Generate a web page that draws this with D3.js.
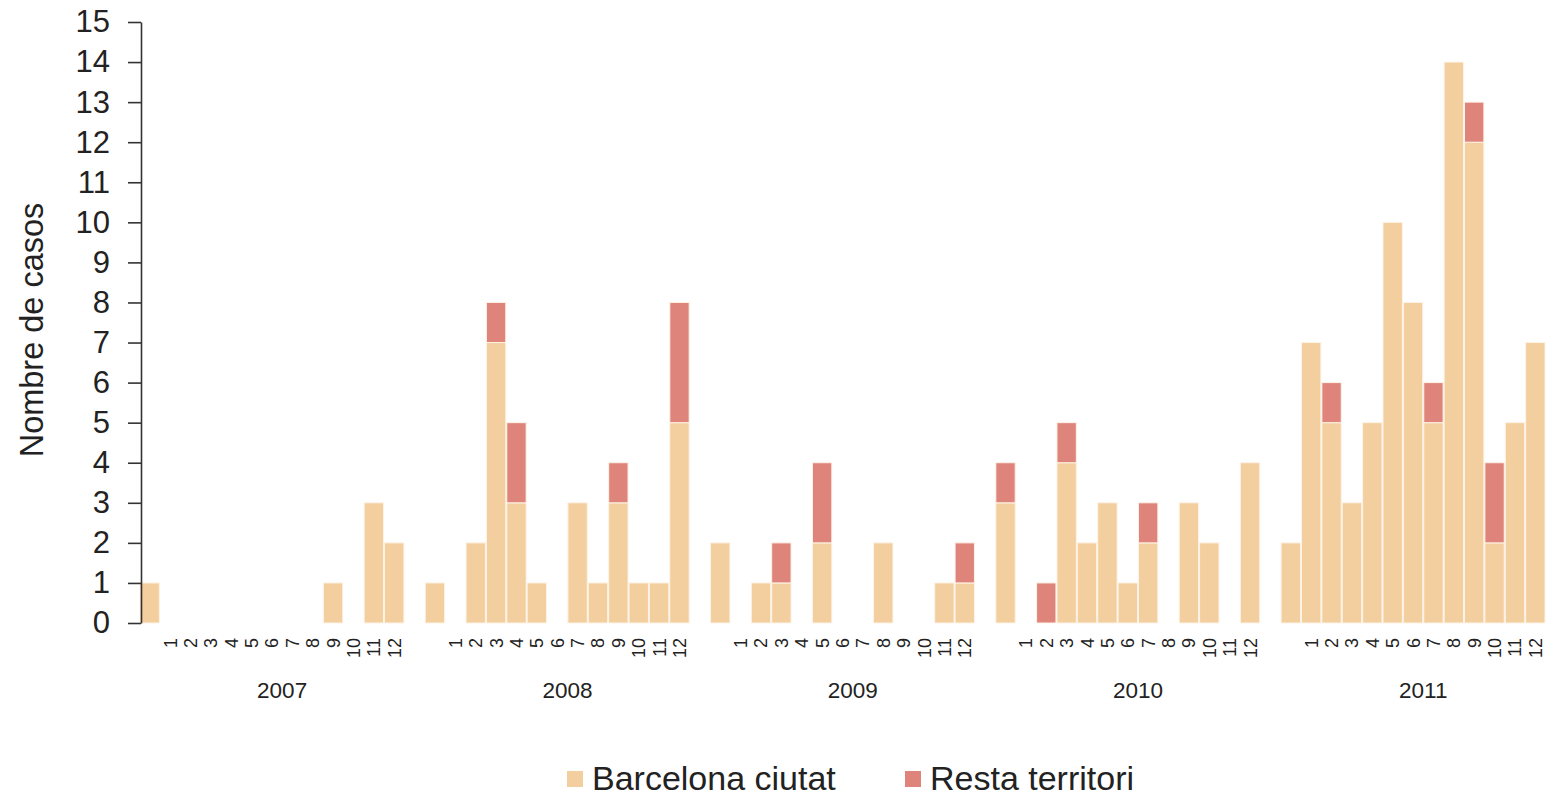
<!DOCTYPE html>
<meta charset="utf-8">
<head>
  <title>Nombre de casos</title>
  <script src="https://d3js.org/d3.v7.min.js"></script>
</head>
<style>
body { margin: 0; background: #fff; }
svg text { font-family: "Liberation Sans", Arial, sans-serif; fill: #222; }
.axis path, .axis line { stroke: #333; stroke-width: 1.6px; }
</style>
<body>
<script>

// data: one row per year, 13 slots per year (first slot unlabelled, then months 1..12)
var years = ["2007", "2008", "2009", "2010", "2011"];
var monthLabels = ["", "1", "2", "3", "4", "5", "6", "7", "8", "9", "10", "11", "12"];

var barcelona = [
  [1, 0, 0, 0, 0, 0, 0, 0, 0, 1, 0, 3, 2],
  [1, 0, 2, 7, 3, 1, 0, 3, 1, 3, 1, 1, 5],
  [2, 0, 1, 1, 0, 2, 0, 0, 2, 0, 0, 1, 1],
  [3, 0, 0, 4, 2, 3, 1, 2, 0, 3, 2, 0, 4],
  [2, 7, 5, 3, 5, 10, 8, 5, 14, 12, 2, 5, 7]
];
var resta = [
  [0, 0, 0, 0, 0, 0, 0, 0, 0, 0, 0, 0, 0],
  [0, 0, 0, 1, 2, 0, 0, 0, 0, 1, 0, 0, 3],
  [0, 0, 0, 1, 0, 2, 0, 0, 0, 0, 0, 0, 1],
  [1, 0, 1, 1, 0, 0, 0, 1, 0, 0, 0, 0, 0],
  [0, 0, 1, 0, 0, 0, 0, 1, 0, 1, 2, 0, 0]
];
var seriesNames = ["Barcelona ciutat", "Resta territori"];
var colors = ["#f3ce9e", "#de847b"];
var yTicks = d3.range(0, 16);

var width = 1553,
    height = 796;

var svg = d3.select("body").append("svg")
    .attr("width", width)
    .attr("height", height);

// flat rows + empty gap slot between years
var rows = [], domain = [];
years.forEach(function(yr, i) {
  monthLabels.forEach(function(m, j) {
    var key = yr + "-" + j;
    domain.push(key);
    rows.push({key: key, year: yr, label: m, barcelona: barcelona[i][j], resta: resta[i][j]});
  });
  if (i < years.length - 1) domain.push(yr + "-gap");
});

var x = d3.scaleBand()
    .domain(domain)
    .range([140, 1545])
    .paddingInner(0.05)
    .paddingOuter(0);

var y = d3.scaleLinear()
    .domain([0, 15])
    .range([623, 22]);

var stack = d3.stack().keys(["barcelona", "resta"]);
var layers = stack(rows);

svg.append("g")
  .selectAll("g")
  .data(layers)
  .enter().append("g")
    .attr("fill", function(d, i) { return colors[i]; })
  .selectAll("rect")
  .data(function(d) { return d; })
  .enter().filter(function(d) { return d[1] > d[0]; }).append("rect")
    .attr("x", function(d) { return x(d.data.key); })
    .attr("y", function(d) { return y(d[1]); })
    .attr("width", x.bandwidth())
    .attr("height", function(d) { return y(d[0]) - y(d[1]); })
    .attr("stroke", "#fdf3e6")
    .attr("stroke-width", 1);

// y axis
var yAxis = svg.append("g")
    .attr("class", "axis")
    .attr("transform", "translate(141,0)")
    .call(d3.axisLeft(y).tickValues(yTicks).tickSize(13).tickSizeOuter(0).tickPadding(18));
yAxis.selectAll("text")
    .style("font-size", "31px");

svg.append("text")
    .attr("transform", "translate(43,330) rotate(-90)")
    .attr("text-anchor", "middle")
    .style("font-size", "32.5px")
    .text("Nombre de casos");

// month labels
svg.append("g")
  .selectAll("text")
  .data(rows.filter(function(d) { return d.label !== ""; }))
  .enter().append("text")
    .attr("transform", function(d) {
      return "translate(" + (x(d.key) + x.bandwidth() / 2 + 6.5) + ",638) rotate(-90)";
    })
    .attr("text-anchor", "end")
    .style("font-size", "18px")
    .text(function(d) { return d.label; });

// year labels, centred under months 1..12
svg.append("g")
  .selectAll("text")
  .data(years)
  .enter().append("text")
    .attr("x", function(yr) {
      return (x(yr + "-1") + x(yr + "-12") + x.bandwidth()) / 2;
    })
    .attr("y", 698)
    .attr("text-anchor", "middle")
    .style("font-size", "22.5px")
    .text(function(yr) { return yr; });

// legend
var legend = svg.append("g")
  .selectAll("g")
  .data(seriesNames)
  .enter().append("g")
    .attr("transform", function(d, i) { return "translate(" + (i === 0 ? 567 : 905) + ",771)"; });

legend.append("rect")
    .attr("width", 16)
    .attr("height", 16)
    .attr("fill", function(d, i) { return colors[i]; });

legend.append("text")
    .attr("x", 25)
    .attr("y", 19)
    .style("font-size", "34px")
    .text(function(d) { return d; });

</script>
</body>
